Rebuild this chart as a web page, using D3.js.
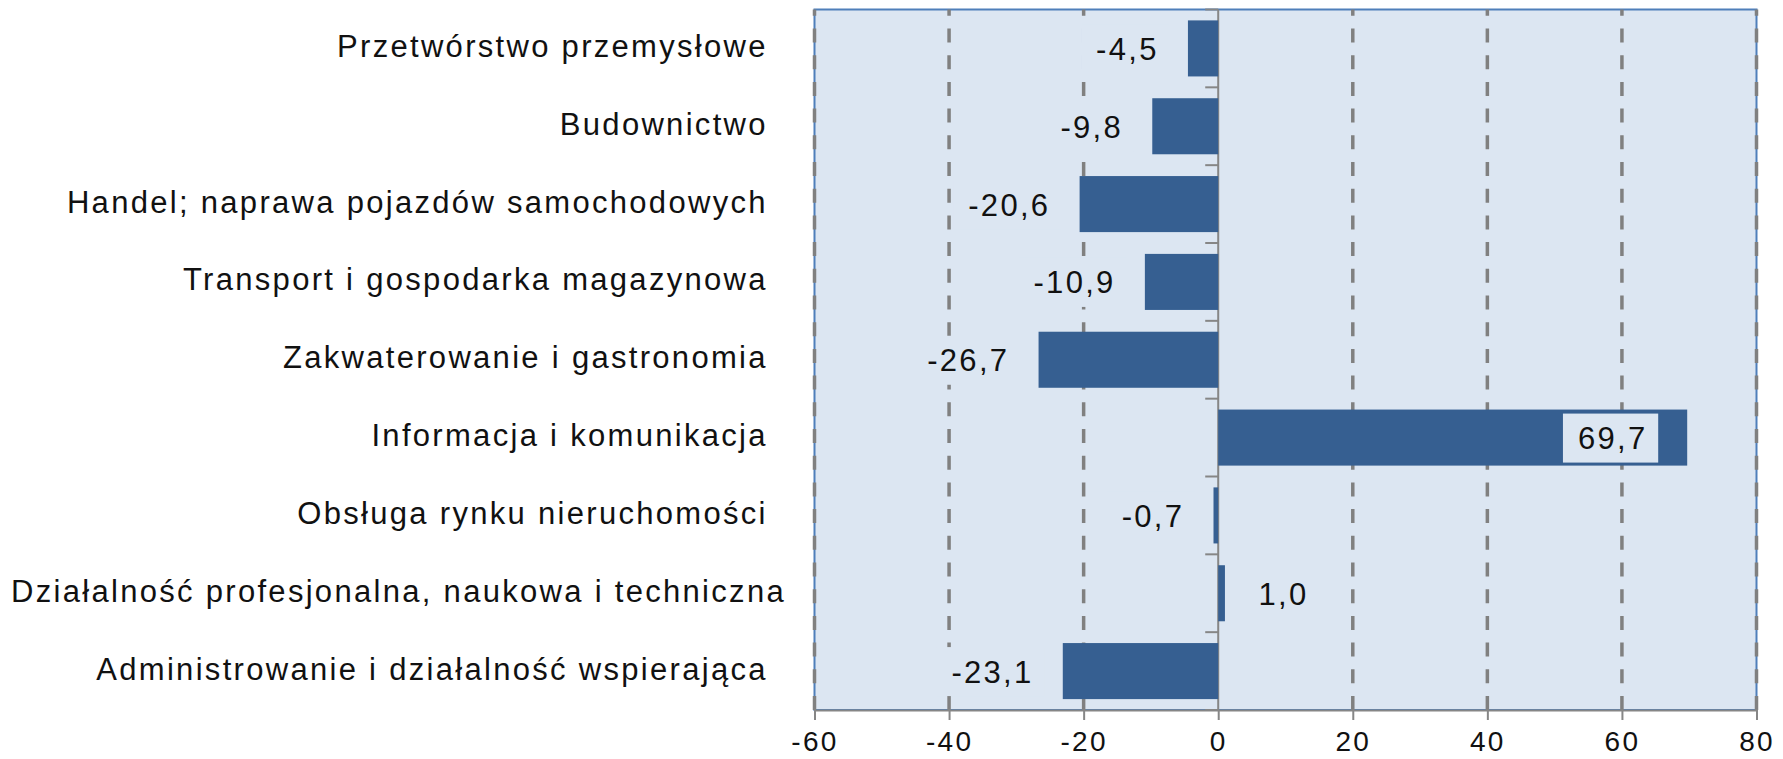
<!DOCTYPE html>
<html>
<head>
<meta charset="utf-8">
<script src="https://cdn.jsdelivr.net/npm/d3@7"></script>
<style>
  body { margin: 0; background: #fff; }
  text { font-family: "Liberation Sans", Arial, sans-serif; fill: #111; }
</style>
</head>
<body>
<svg class="chart"></svg>
<script>
const categories = [
  "Przetwórstwo przemysłowe",
  "Budownictwo",
  "Handel; naprawa pojazdów samochodowych",
  "Transport i gospodarka magazynowa",
  "Zakwaterowanie i gastronomia",
  "Informacja i komunikacja",
  "Obsługa rynku nieruchomości",
  "Działalność profesjonalna, naukowa i techniczna",
  "Administrowanie i działalność wspierająca"
];
const values = [-4.5, -9.8, -20.6, -10.9, -26.7, 69.7, -0.7, 1.0, -23.1];
const xTicks = [-60, -40, -20, 0, 20, 40, 60, 80];

const w = 1783;
const h = 759;
const margin = {top: 9.5, right: 26.5, bottom: 49, left: 814.5};
const fontSize = 31;
const spacing = 2.3;
const tickFont = 28;

const data = categories.map((c, i) => ({cat: c, val: values[i]}));

const svg = d3.select(".chart")
  .attr("width", w)
  .attr("height", h);

const x = d3.scaleLinear()
  .domain([xTicks[0], xTicks[xTicks.length - 1]])
  .range([margin.left, w - margin.right]);

const y = d3.scaleBand()
  .domain(categories)
  .range([margin.top, h - margin.bottom])
  .paddingInner(0.28)
  .paddingOuter(0.14);

const plotTop = margin.top, plotBottom = h - margin.bottom;

// plot area
svg.append("rect")
  .attr("x", x.range()[0])
  .attr("y", plotTop)
  .attr("width", x.range()[1] - x.range()[0])
  .attr("height", plotBottom - plotTop)
  .attr("fill", "#dce6f2")
  .attr("stroke", "#4f7fba")
  .attr("stroke-width", 2);

// dashed gridlines (drawn from the bottom up so the dash phase matches)
svg.append("g").selectAll("line")
  .data(xTicks.filter(t => t != 0))
  .enter().append("line")
  .attr("x1", d => x(d)).attr("x2", d => x(d))
  .attr("y1", plotBottom).attr("y2", plotTop)
  .attr("stroke", "#808080")
  .attr("stroke-width", 3.5)
  .attr("stroke-dasharray", "14,12.7");

// category axis at zero with ticks between bands
svg.append("line")
  .attr("x1", x(0)).attr("x2", x(0))
  .attr("y1", plotTop).attr("y2", plotBottom)
  .attr("stroke", "#868686")
  .attr("stroke-width", 2);

svg.append("g").selectAll("line")
  .data(d3.range(categories.length + 1))
  .enter().append("line")
  .attr("x1", x(0) - 13).attr("x2", x(0))
  .attr("y1", i => y.range()[0] + i * y.step())
  .attr("y2", i => y.range()[0] + i * y.step())
  .attr("stroke", "#868686")
  .attr("stroke-width", 2);

// bars
svg.append("g").selectAll("rect")
  .data(data)
  .enter().append("rect")
  .attr("x", d => x(Math.min(0, d.val)))
  .attr("width", d => Math.abs(x(d.val) - x(0)))
  .attr("y", d => y(d.cat))
  .attr("height", y.bandwidth())
  .attr("fill", "#365f91");

// value labels with a box in the plot colour
const fmt = v => v.toFixed(1).replace(".", ",");
const lab = svg.append("g").selectAll("g")
  .data(data)
  .enter().append("g");

lab.append("rect").attr("fill", "#dce6f2");
lab.append("text")
  .attr("font-size", fontSize + "px")
  .style("letter-spacing", spacing + "px")
  .text(d => fmt(d.val));

lab.each(function(d) {
  const g = d3.select(this);
  const t = g.select("text");
  const tw = t.node().getComputedTextLength() - spacing;
  const cy = y(d.cat) + y.bandwidth() / 2;
  const padL = 15, padR = 13, gap = 18.5;
  let boxX;
  if (d.val < 0) {
    boxX = x(d.val) - gap - (tw + padL + padR);
  } else {
    boxX = x(d.val) + gap;
    if (boxX + tw + padL + padR > x.range()[1]) {
      boxX = x(d.val) - 29 - (tw + padL + padR);
    }
  }
  g.select("rect")
    .attr("x", boxX).attr("y", cy - 24)
    .attr("width", tw + padL + padR).attr("height", 49);
  t.attr("x", boxX + padL).attr("y", cy + 11.5);
});

// category labels on the left of the plot
svg.append("g").selectAll("text")
  .data(data)
  .enter().append("text")
  .attr("font-size", fontSize + "px")
  .style("letter-spacing", spacing + "px")
  .attr("text-anchor", "end")
  .attr("x", margin.left - 49 + spacing)
  .attr("y", d => y(d.cat) + y.bandwidth() / 2 + 8.5)
  .text(d => d.cat)
  .each(function() {
    // long labels are pushed back in from the left edge
    const b = this.getBBox();
    if (b.x < 11) d3.select(this).attr("x", margin.left - 49 + spacing + (11 - b.x));
  });

// bottom axis
const xAxis = svg.append("g")
  .attr("transform", `translate(0,${plotBottom})`)
  .call(d3.axisBottom(x).tickValues(xTicks).tickSize(10).tickPadding(11)
    .tickFormat(d => String(d)));
xAxis.select(".domain").attr("stroke", "#868686").attr("stroke-width", 2);
xAxis.selectAll(".tick line").attr("stroke", "#868686").attr("stroke-width", 2);
xAxis.selectAll(".tick text")
  .attr("font-size", tickFont + "px")
  .attr("font-family", "\"Liberation Sans\", Arial, sans-serif")
  .style("letter-spacing", spacing + "px")
  .attr("fill", "#111");
</script>
</body>
</html>
